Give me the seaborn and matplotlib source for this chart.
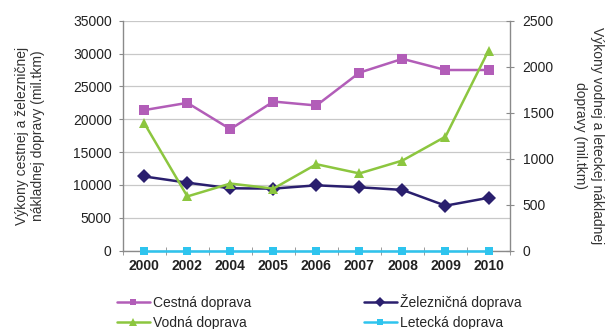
import matplotlib
matplotlib.use("Agg")
import matplotlib.pyplot as plt
import seaborn as sns
import pandas as pd
import numpy as np
from matplotlib.lines import Line2D

years = ["2000", "2002", "2004", "2005", "2006", "2007", "2008", "2009", "2010"]
cestna = [21400, 22500, 18500, 22700, 22100, 27100, 29200, 27500, 27500]
zeleznicna = [11300, 10350, 9500, 9450, 9950, 9650, 9250, 6850, 8050]
vodna = [1385, 590, 730, 675, 940, 840, 980, 1240, 2175]
letecka = [0, 0, 0, 0, 0, 0, 0, 0, 0]

left_ticks = [0, 5000, 10000, 15000, 20000, 25000, 30000, 35000]
right_ticks = [0, 500, 1000, 1500, 2000, 2500]

c_cestna = "#B25DB8"
c_zel = "#2A1F6E"
c_vodna = "#8CC63F"
c_let = "#2EC4EE"

sns.set_style("white")
plt.rcParams["font.family"] = ["Liberation Sans", "DejaVu Sans"]

fig = plt.figure(figsize=(6.05, 3.29), dpi=100)
ax = fig.add_axes([0.203, 0.238, 0.640, 0.699])
ax2 = ax.twinx()

df_left = pd.DataFrame({"rok": years, "cestna": cestna, "zel": zeleznicna})
df_right = pd.DataFrame({"rok": years, "vodna": vodna, "let": letecka})

sns.lineplot(data=df_left, x="rok", y="cestna", ax=ax, color=c_cestna, marker="s",
             markersize=6.5, markeredgewidth=0, linewidth=1.8, sort=False, zorder=3)
sns.lineplot(data=df_left, x="rok", y="zel", ax=ax, color=c_zel, marker="D",
             markersize=7.5, markeredgewidth=0, linewidth=1.8, sort=False, zorder=3)
sns.lineplot(data=df_right, x="rok", y="vodna", ax=ax2, color=c_vodna, marker="^",
             markersize=7, markeredgewidth=0, linewidth=1.8, sort=False, zorder=3)
sns.lineplot(data=df_right, x="rok", y="let", ax=ax2, color=c_let, marker="s",
             markersize=6, markeredgewidth=0, linewidth=1.8, sort=False, zorder=3,
             clip_on=False)

ax.set_xlim(-0.5, len(years) - 0.5)
ax.set_ylim(0, 35000)
ax2.set_ylim(0, 2500)
ax.set_yticks(left_ticks)
ax2.set_yticks(right_ticks)
ax.set_xticks(range(len(years)))
ax.set_xticklabels(years, fontsize=10, fontweight="bold")
ax.set_xticks(np.arange(-0.5, len(years), 1.0), minor=True)

ax.yaxis.grid(True, color="#C8C8C8", linewidth=0.9)
ax.set_axisbelow(True)
ax.set_xlabel("")
ax.set_ylabel("Výkony cestnej a železničnej\nnákladnej dopravy (mil.tkm)", fontsize=10,
              color="#333333", labelpad=20)
ax2.set_ylabel("Výkony vodnej a leteckej nákladnej\ndopravy (mil.tkm)", fontsize=10,
               color="#333333", rotation=-90, labelpad=36)

for a in (ax, ax2):
    for s in a.spines.values():
        s.set_visible(False)
ax.spines["left"].set_visible(True)
ax.spines["bottom"].set_visible(True)
ax2.spines["right"].set_visible(True)
for s in (ax.spines["left"], ax.spines["bottom"], ax2.spines["right"]):
    s.set_color("#8A8A8A")
    s.set_linewidth(1.0)

ax.tick_params(axis="y", which="major", direction="out", length=3, color="#8A8A8A",
               labelsize=10, labelcolor="#222222", pad=5, left=True)
ax.tick_params(axis="x", which="major", length=0, pad=6, labelcolor="#222222")
ax.tick_params(axis="x", which="minor", direction="inout", length=6, color="#8A8A8A",
               bottom=True)
ax2.tick_params(axis="y", direction="inout", length=6, color="#8A8A8A",
                labelsize=10, labelcolor="#222222", pad=6, right=True)

handles = [
    Line2D([], [], color=c_cestna, marker="s", markersize=5, markeredgewidth=0, linewidth=1.8),
    Line2D([], [], color=c_vodna, marker="^", markersize=6, markeredgewidth=0, linewidth=1.8),
    Line2D([], [], color=c_zel, marker="D", markersize=5, markeredgewidth=0, linewidth=1.8),
    Line2D([], [], color=c_let, marker="s", markersize=5, markeredgewidth=0, linewidth=1.8),
]
labels = ["Cestná doprava", "Vodná doprava", "Železničná doprava", "Letecká doprava"]
fig.legend(handles, labels, ncol=2, loc="upper left", bbox_to_anchor=(0.193, 0.106),
           frameon=False, fontsize=10, handlelength=2.4, handletextpad=0.2,
           columnspacing=8.1, labelspacing=0.4, borderpad=0, borderaxespad=0)

fig.savefig("out.png", dpi=100)
